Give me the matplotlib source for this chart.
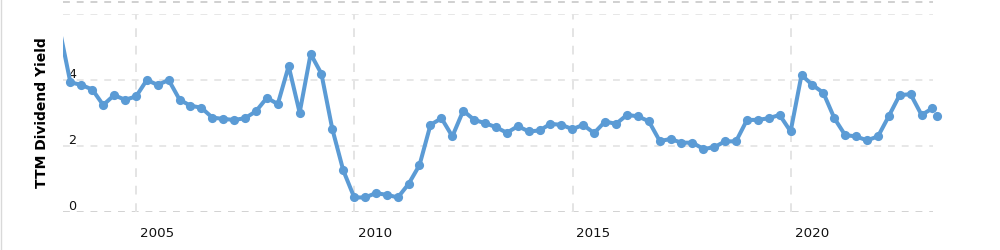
import matplotlib
matplotlib.use("Agg")
import matplotlib.pyplot as plt
import matplotlib.transforms as mtransforms
from matplotlib.lines import Line2D
import numpy as np
import pandas as pd

# ---- data (TTM dividend yield, quarterly) ----
quarter_dates = pd.date_range("2003-03-31", "2023-03-31", freq="QE")
last_date = pd.Timestamp("2023-05-08")
quarter_values = [
    5.56,
    3.94, 3.86, 3.72, 3.25, 3.55, 3.41, 3.51, 4.01, 3.86, 4.01,
    3.41, 3.23, 3.17, 2.87, 2.83, 2.80, 2.85, 3.06, 3.47, 3.28,
    4.43, 3.02, 4.80, 4.20, 2.53, 1.27, 0.45, 0.45, 0.58, 0.53,
    0.45, 0.86, 1.43, 2.65, 2.85, 2.30, 3.08, 2.80, 2.70, 2.58,
    2.41, 2.61, 2.45, 2.48, 2.68, 2.65, 2.52, 2.65, 2.40, 2.75,
    2.68, 2.95, 2.91, 2.76, 2.16, 2.22, 2.11, 2.11, 1.92, 1.97,
    2.15, 2.15, 2.80, 2.80, 2.85, 2.95, 2.45, 4.16, 3.86, 3.62,
    2.85, 2.34, 2.30, 2.18, 2.30, 2.91, 3.55, 3.58, 2.95, 3.15,
]
last_value = 2.91
x_tick_years = [2005, 2010, 2015, 2020]
y_ticks = [0, 2, 4, 6]
y_tick_labels = ["0", "2", "4", ""]
y_label = "TTM Dividend Yield"

dates = list(quarter_dates) + [last_date]
values = np.array(quarter_values + [last_value])

COLOR = "#5b9bd5"

fig = plt.figure(figsize=(10, 2.51), dpi=100)
ax = fig.add_axes([0.0633, 0.1502, 0.8694, 0.7888])

xmin = pd.Timestamp("2003-05-02")
xmax = pd.Timestamp("2023-04-03")
ax.set_xlim(xmin, xmax)
ax.set_ylim(0, 6)

for s in ax.spines.values():
    s.set_visible(False)

# grid
dash = (0, (4.5, 4.5))
for yv in y_ticks:
    ax.axhline(yv, color="#c6c6c6" if yv == 0 else "#e0e0e0", lw=1.1,
               linestyle=dash, zorder=1)
ax.axhline(6.37, color="#c4c4c4", lw=1.1, linestyle=dash, zorder=1, clip_on=False)
year_starts = [pd.Timestamp(f"{yr}-01-01") for yr in x_tick_years]
for d in year_starts:
    ax.axvline(d, color="#e4e4e4", lw=1.4, linestyle=dash, zorder=1)

# series
ax.plot(dates, values, color=COLOR, lw=2.9, zorder=3, solid_joinstyle="round")
mask = np.array([d >= xmin for d in dates])
ax.plot([d for d, m in zip(dates, mask) if m], values[mask], "o", color=COLOR,
        ms=6.6, zorder=4, clip_on=False, markeredgewidth=0)

# x tick labels: drawn as texts, shifted right of the year gridline
ax.set_xticks([])
ax.set_yticks([])
xtrans = mtransforms.blended_transform_factory(ax.transData, ax.transAxes)
shift = mtransforms.ScaledTranslation(0.21, -0.235, fig.dpi_scale_trans)
for d, yr in zip(year_starts, x_tick_years):
    ax.text(d, 0, str(yr), transform=xtrans + shift, ha="center", va="baseline",
            fontsize=9.6, color="#111111", clip_on=False)

# y tick labels inside plot
ytrans = mtransforms.blended_transform_factory(ax.transAxes, ax.transData)
lift = mtransforms.ScaledTranslation(0, 0.035, fig.dpi_scale_trans)
for yv, lab in zip(y_ticks, y_tick_labels):
    if lab:
        ax.text(0.0058, yv, lab, transform=ytrans + lift, ha="left", va="baseline",
                fontsize=9.2, color="#111111", zorder=2)

fig.text(0.042, 1 - 112.5 / 251, y_label, rotation=90, ha="center", va="center",
         fontsize=10, fontweight="bold", color="#000000")

# left border of the frame
fig.add_artist(Line2D([0.0005, 0.0005], [0, 1], transform=fig.transFigure,
                      color="#d9d9d9", lw=1))

fig.savefig("out.png", dpi=100)
